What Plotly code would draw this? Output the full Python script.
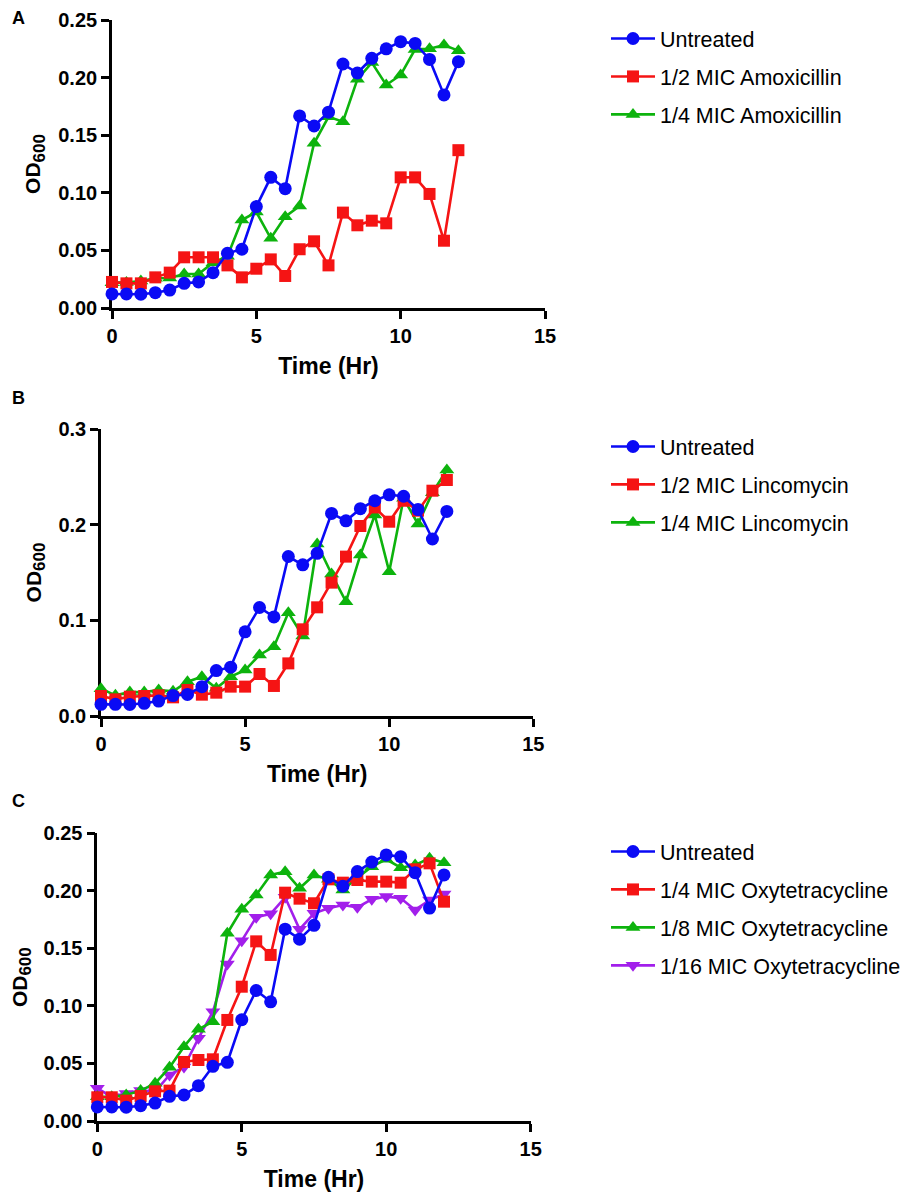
import plotly.graph_objects as go

time_hr = [0, 0.5, 1, 1.5, 2, 2.5, 3, 3.5, 4, 4.5, 5, 5.5, 6, 6.5, 7, 7.5, 8, 8.5,
           9, 9.5, 10, 10.5, 11, 11.5, 12]

untreated = [0.0122, 0.0122, 0.0120, 0.0133, 0.0156, 0.0214, 0.0226, 0.0307, 0.0475, 0.0510,
             0.0880, 0.1134, 0.1036, 0.1667, 0.1580, 0.1700, 0.2118, 0.2040, 0.2167, 0.2250,
             0.2312, 0.2297, 0.2158, 0.1850, 0.2138]

amox_half = [0.0226, 0.0214, 0.0214, 0.0266, 0.0307, 0.0440, 0.0440, 0.0440, 0.0370, 0.0266,
             0.0341, 0.0422, 0.0278, 0.0510, 0.0579, 0.0370, 0.0828, 0.0718, 0.0758, 0.0735,
             0.1134, 0.1134, 0.0990, 0.0584, 0.1370]
amox_quarter = [0.0220, 0.0222, 0.0234, 0.0258, 0.0260, 0.0295, 0.0295, 0.0393, 0.0450, 0.0764,
                0.0833, 0.0605, 0.0793, 0.0885, 0.1430, 0.1660, 0.1617, 0.1985, 0.2130, 0.1936,
                0.2023, 0.2245, 0.2250, 0.2283, 0.2234]

linc_half = [0.0209, 0.0174, 0.0202, 0.0209, 0.0216, 0.0195, 0.0272, 0.0223, 0.0244, 0.0307,
             0.0307, 0.0439, 0.0314, 0.0550, 0.0906, 0.1136, 0.1394, 0.1666, 0.1986, 0.2180,
             0.2031, 0.2250, 0.2146, 0.2355, 0.2467]
linc_quarter = [0.0286, 0.0216, 0.0250, 0.0250, 0.0272, 0.0258, 0.0359, 0.0411, 0.0289, 0.0411,
                0.0480, 0.0638, 0.0725, 0.1080, 0.0836, 0.1798, 0.1484, 0.1195, 0.1683, 0.2101,
                0.1509, 0.2275, 0.2007, 0.2334, 0.2571]

oxy_quarter = [0.0206, 0.0206, 0.0177, 0.0217, 0.0258, 0.0264, 0.0513, 0.0530, 0.0536, 0.0878,
               0.1167, 0.1561, 0.1443, 0.1984, 0.1932, 0.1892, 0.2100, 0.2071, 0.2094, 0.2080,
               0.2080, 0.2071, 0.2187, 0.2239, 0.1906]
oxy_eighth = [0.0210, 0.0210, 0.0226, 0.0264, 0.0327, 0.0466, 0.0646, 0.0797, 0.0863, 0.1631,
              0.1840, 0.1964, 0.2138, 0.2166, 0.2022, 0.2138, 0.2100, 0.2007, 0.2115, 0.2210,
              0.2274, 0.2201, 0.2225, 0.2283, 0.2245]
oxy_sixteenth = [0.0284, 0.0211, 0.0240, 0.0264, 0.0255, 0.0400, 0.0470, 0.0718, 0.0950, 0.1364,
                 0.1567, 0.1770, 0.1800, 0.1944, 0.1666, 0.1805, 0.1848, 0.1877, 0.1857, 0.1926,
                 0.1950, 0.1935, 0.1834, 0.1920, 0.1973]

BLUE = "#0A0AF5"
RED = "#F51414"
GREEN = "#0DB30D"
PURPLE = "#A21FEB"
FONT = "Liberation Sans, Arial, sans-serif"

panels = [
    dict(name="A", xa="x", ya="y", leg="legend",
         series=[("Untreated", untreated, BLUE, "circle"),
                 ("1/2 MIC Amoxicillin", amox_half, RED, "square"),
                 ("1/4 MIC Amoxicillin", amox_quarter, GREEN, "triangle-up")]),
    dict(name="B", xa="x2", ya="y2", leg="legend2",
         series=[("Untreated", untreated, BLUE, "circle"),
                 ("1/2 MIC Lincomycin", linc_half, RED, "square"),
                 ("1/4 MIC Lincomycin", linc_quarter, GREEN, "triangle-up")]),
    dict(name="C", xa="x3", ya="y3", leg="legend3",
         series=[("Untreated", untreated, BLUE, "circle"),
                 ("1/4 MIC Oxytetracycline", oxy_quarter, RED, "square"),
                 ("1/8 MIC Oxytetracycline", oxy_eighth, GREEN, "triangle-up"),
                 ("1/16 MIC Oxytetracycline", oxy_sixteenth, PURPLE, "triangle-down")]),
]

fig = go.Figure()
for p in panels:
    # draw in reverse so the first series sits on top
    for rank, (nm, vals, col, sym) in reversed(list(enumerate(p["series"]))):
        fig.add_trace(go.Scatter(
            x=time_hr, y=vals, name=nm, mode="lines+markers",
            line=dict(color=col, width=2.6),
            marker=dict(color=col, symbol=sym, size=13 if sym != "square" else 12),
            xaxis=p["xa"], yaxis=p["ya"], legend=p["leg"],
            legendgroup=p["name"] + str(rank), legendrank=rank + 1,
            cliponaxis=False, showlegend=True,
        ))

# page body adds an 8px offset; figure coordinates below are page pixels minus 8
W, H = 904, 1186
OFF = 8


def dom_x(a, b):
    return [(a - OFF) / W, (b - OFF) / W]


def dom_y(top, bottom):
    return [1 - (bottom - OFF) / H, 1 - (top - OFF) / H]


def px_x(a):
    return (a - OFF) / W


def px_y(a):
    return 1 - (a - OFF) / H


axis_common = dict(showline=True, linecolor="black", linewidth=2.6, ticks="outside",
                   ticklen=8, tickwidth=2.6, tickcolor="black", showgrid=False,
                   zeroline=False, layer="below traces", automargin=False,
                   tickfont=dict(family=FONT, size=20, color="black", weight="bold"))

xtitle = dict(text="Time (Hr)", font=dict(family=FONT, size=23, color="black", weight="bold"),
              standoff=13)
ytitle = dict(text="OD<sub><span style='font-size:17px'>600</span></sub>",
              font=dict(family=FONT, size=21, color="black", weight="bold"),
              standoff=12)

fig.update_layout(
    width=W, height=H, margin=dict(l=0, r=0, t=0, b=0, autoexpand=False),
    paper_bgcolor="white", plot_bgcolor="white",
    font=dict(family=FONT, color="black"),
    xaxis=dict(domain=dom_x(112, 545), range=[0, 15], tickvals=[0, 5, 10, 15], anchor="y",
               title=xtitle, **axis_common),
    yaxis=dict(domain=dom_y(20, 308), range=[0, 0.25], tickvals=[0, 0.05, 0.1, 0.15, 0.2, 0.25],
               tickformat=".2f", anchor="x", title=ytitle, **axis_common),
    xaxis2=dict(domain=dom_x(101, 533.3), range=[0, 15], tickvals=[0, 5, 10, 15], anchor="y2",
                title=xtitle, **axis_common),
    yaxis2=dict(domain=dom_y(429, 716), range=[0, 0.3], tickvals=[0, 0.1, 0.2, 0.3],
                tickformat=".1f", anchor="x2", title=ytitle, **axis_common),
    xaxis3=dict(domain=dom_x(97.3, 530.7), range=[0, 15], tickvals=[0, 5, 10, 15], anchor="y3",
                title=xtitle, **axis_common),
    yaxis3=dict(domain=dom_y(833.3, 1121), range=[0, 0.25], tickvals=[0, 0.05, 0.1, 0.15, 0.2, 0.25],
                tickformat=".2f", anchor="x3", title=ytitle, **axis_common),
)

leg_common = dict(font=dict(family=FONT, size=21.5, color="black"), bgcolor="rgba(0,0,0,0)",
                  xanchor="left", yanchor="top", tracegroupgap=7, itemwidth=44)
fig.update_layout(
    legend=dict(x=px_x(606), y=px_y(18), **leg_common),
    legend2=dict(x=px_x(606), y=px_y(426), **leg_common),
    legend3=dict(x=px_x(606), y=px_y(831), **leg_common),
)

for lab, ypx in [("A", 18), ("B", 398), ("C", 801)]:
    fig.add_annotation(text=lab, x=px_x(18), y=px_y(ypx), xref="paper", yref="paper",
                       showarrow=False, xanchor="center", yanchor="middle",
                       font=dict(family=FONT, size=18, color="black", weight="bold"))

fig.write_html("out.html")
